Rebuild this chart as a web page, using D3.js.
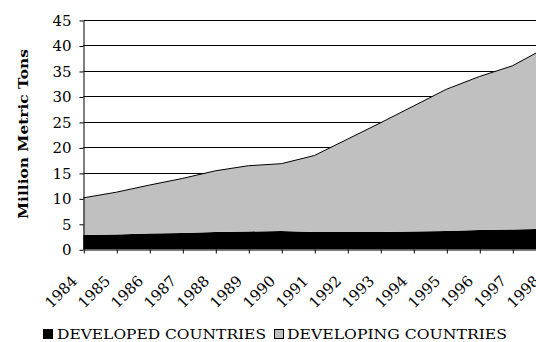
<!DOCTYPE html>
<html>
<head>
<meta charset="utf-8">
<script src="https://cdn.jsdelivr.net/npm/d3@7"></script>
<style>
html,body{margin:0;padding:0;background:#fff;overflow:hidden;}
svg{display:block;}
text{font-family:"DejaVu Serif",serif;fill:#000;}
</style>
</head>
<body>
<svg id="chart" width="536" height="342"></svg>
<script>
const years = ["1984","1985","1986","1987","1988","1989","1990","1991","1992","1993","1994","1995","1996","1997","1998"];
const developed = [2.8, 2.9, 3.1, 3.2, 3.4, 3.5, 3.6, 3.4, 3.4, 3.4, 3.5, 3.6, 3.8, 3.9, 4.0];
const developing = [7.3, 8.3, 9.5, 10.7, 12.0, 12.9, 13.2, 15.0, 18.2, 21.4, 24.6, 27.8, 30.1, 32.1, 35.5];
const yTicks = [0,5,10,15,20,25,30,35,40,45];
const seriesNames = ["DEVELOPED COUNTRIES","DEVELOPING COUNTRIES"];
const seriesColors = ["#000000","#c0c0c0"];

const svg = d3.select("#chart");
const x = d3.scalePoint().domain(years).range([83.3, 545.3]);
const y = d3.scaleLinear().domain([0,45]).range([249.3, 20]);

const table = years.map((yr,i)=>({year:yr, dev:developed[i], ing:developing[i]}));
const stack = d3.stack().keys(["dev","ing"]);
const layers = stack(table);

// gridlines
svg.append("g").selectAll("line").data(yTicks.filter(d=>d>0)).join("line")
  .attr("x1", 83.5).attr("x2", 560)
  .attr("y1", d=>Math.round(y(d))+0.5).attr("y2", d=>Math.round(y(d))+0.5)
  .attr("stroke","#000").attr("stroke-width",1);

// areas
const area = d3.area().x(d=>x(d.data.year)).y0(d=>y(d[0])).y1(d=>y(d[1]));
svg.append("g").selectAll("path").data(layers).join("path")
  .attr("d", area).attr("fill",(d,i)=>seriesColors[i]);

// top outline of developing series
svg.append("path").datum(layers[1])
  .attr("d", d3.line().x(d=>x(d.data.year)).y(d=>y(d[1])))
  .attr("fill","none").attr("stroke","#000").attr("stroke-width",1);

// y axis
const yAxis = d3.axisLeft(y).tickValues(yTicks).tickSize(4).tickSizeOuter(0).tickPadding(8);
const gy = svg.append("g").attr("transform","translate(83.5,0.5)").call(yAxis);
gy.select(".domain").attr("stroke","#000");
gy.selectAll("text").style("font-size","15px").style("font-family","DejaVu Serif, serif");

// x axis
const xAxis = d3.axisBottom(x).tickSize(4).tickSizeOuter(0).tickFormat(()=>"" );
const gx = svg.append("g").attr("transform","translate(0.5,249.5)").call(xAxis);
gx.select(".domain").attr("stroke","#000");
svg.append("g").selectAll("text").data(years).join("text")
  .attr("transform", d=>`translate(${x(d)-5},${282}) rotate(-45)`)
  .attr("text-anchor","end")
  .style("font-size","15px")
  .text(d=>d);

// y title
svg.append("text")
  .attr("transform","translate(28,134) rotate(-90)")
  .attr("text-anchor","middle")
  .style("font-size","13.5px").style("font-weight","bold")
  .attr("textLength",170).attr("lengthAdjust","spacingAndGlyphs")
  .text("Million Metric Tons");

// legend
const legendItems = [{x:43, tx:57, w:209},{x:274, tx:287, w:220}];
const lg = svg.append("g");
legendItems.forEach((it,i)=>{
  lg.append("rect").attr("x",it.x+0.5).attr("y",329.5).attr("width",9).attr("height",9)
    .attr("fill",seriesColors[i]).attr("stroke","#000").attr("stroke-width",1);
  lg.append("text").attr("x",it.tx).attr("y",339)
    .style("font-size","12.5px")
    .attr("textLength",it.w).attr("lengthAdjust","spacingAndGlyphs")
    .text(seriesNames[i]);
});
</script>
</body>
</html>
